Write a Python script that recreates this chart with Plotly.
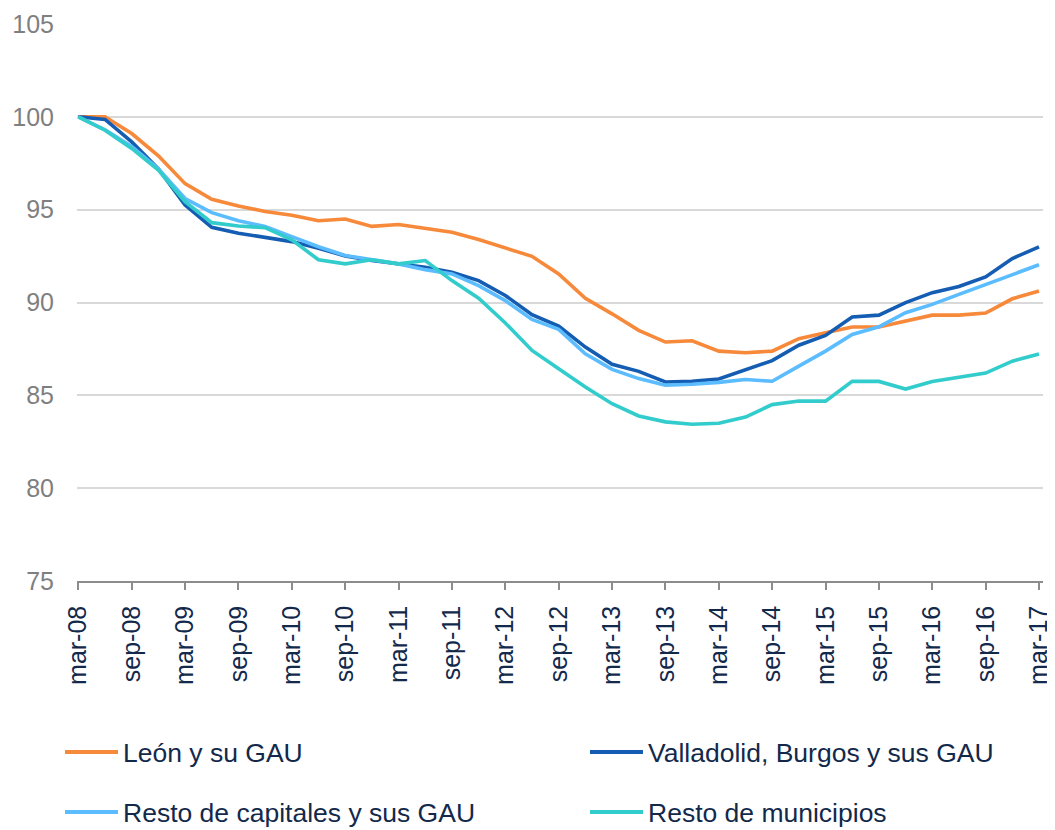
import plotly.graph_objects as go

months = ["mar", "jun", "sep", "dic"]
years = ["08", "09", "10", "11", "12", "13", "14", "15", "16", "17"]
quarters = [f"{m}-{y}" for y in years for m in months][:37]
tick_labels = quarters[::2]

leon = [100, 100.0, 99.1, 97.9, 96.4, 95.56, 95.2, 94.9, 94.7, 94.4, 94.5, 94.1,
        94.2, 94.0, 93.78, 93.39, 92.92, 92.49, 91.54, 90.23, 89.39, 88.5, 87.87,
        87.94, 87.38, 87.29, 87.38, 88.05, 88.37, 88.68, 88.68, 89.0, 89.32, 89.32,
        89.43, 90.2, 90.62]
valladolid = [100, 99.86, 98.65, 97.2, 95.25, 94.05, 93.73, 93.5, 93.28, 92.92,
              92.51, 92.26, 92.08, 91.9, 91.63, 91.18, 90.38, 89.34, 88.73, 87.6,
              86.67, 86.29, 85.72, 85.75, 85.88, 86.35, 86.87, 87.7, 88.23, 89.22,
              89.32, 89.99, 90.53, 90.86, 91.38, 92.37, 93.0]
resto_capitales = [100, 99.3, 98.4, 97.2, 95.6, 94.84, 94.4, 94.1, 93.55, 93.0,
                   92.53, 92.3, 92.08, 91.77, 91.54, 90.91, 90.1, 89.09, 88.55,
                   87.24, 86.4, 85.9, 85.54, 85.6, 85.7, 85.85, 85.76, 86.57, 87.38,
                   88.28, 88.69, 89.45, 89.9, 90.44, 90.98, 91.52, 92.03]
resto_municipios = [100, 99.28, 98.3, 97.13, 95.43, 94.3, 94.12, 94.03, 93.37, 92.3,
                    92.08, 92.3, 92.08, 92.26, 91.18, 90.23, 88.9, 87.42, 86.43,
                    85.45, 84.55, 83.89, 83.57, 83.44, 83.5, 83.83, 84.5, 84.69,
                    84.69, 85.75, 85.75, 85.34, 85.75, 85.99, 86.2, 86.84, 87.23]

names = ["León y su GAU", "Valladolid, Burgos y sus GAU",
         "Resto de capitales y sus GAU", "Resto de municipios"]
colors = ["#F7893B", "#145DB2", "#5BBCFF", "#33CCCC"]
series = [leon, valladolid, resto_capitales, resto_municipios]

FONT = "Liberation Sans, Arial, sans-serif"
NAVY = "#13294B"
OFF = 8  # page body margin offset
W, H = 1055 - OFF, 830 - OFF
L, R, T, B = 77 - OFF, 12, 24 - OFF, 249
PW, PH = W - L - R, H - T - B

fig = go.Figure()
for name, col, vals in zip(names, colors, series):
    fig.add_trace(go.Scatter(x=quarters, y=vals, mode="lines", name=name,
                             line=dict(color=col, width=3.6), showlegend=False))

def xp(px):
    return (px - OFF - L) / PW

def yp(py):
    return (H - B - (py - OFF)) / PH

# manual legend (2 columns, 2 rows), positions in page pixels
legend_pos = [(65, 752), (590, 752), (65, 812), (590, 812)]
shapes = []
annotations = []
for (lx, ly), name, col in zip(legend_pos, names, colors):
    shapes.append(dict(type="line", xref="paper", yref="paper",
                       x0=xp(lx), x1=xp(lx + 53), y0=yp(ly), y1=yp(ly),
                       line=dict(color=col, width=4)))
    annotations.append(dict(xref="paper", yref="paper", x=xp(lx + 56), y=yp(ly + 1),
                            text=name, showarrow=False, xanchor="left", yanchor="middle",
                            font=dict(family=FONT, size=26.5, color=NAVY)))

fig.update_layout(
    width=W, height=H,
    margin=dict(l=L, r=R, t=T, b=B),
    plot_bgcolor="white", paper_bgcolor="white",
    shapes=shapes, annotations=annotations,
    xaxis=dict(
        type="category", categoryorder="array", categoryarray=quarters,
        range=[-0.05, 36.15], automargin=False,
        tickmode="array", tickvals=tick_labels, ticktext=tick_labels,
        tickangle=-90, ticks="outside", ticklen=7, tickwidth=1.5, tickcolor="#8c8c8c",
        ticklabelstandoff=6,
        showline=True, linecolor="#8c8c8c", linewidth=1.5,
        showgrid=False, zeroline=False,
        tickfont=dict(family=FONT, size=25, color=NAVY),
    ),
    yaxis=dict(
        range=[75, 105], tickmode="array", tickvals=[75, 80, 85, 90, 95, 100, 105],
        automargin=False,
        showgrid=True, gridcolor="#d9d9d9", gridwidth=1.5,
        zeroline=False, showline=False, ticks="",
        ticklabelstandoff=22,
        tickfont=dict(family=FONT, size=25, color="#7f7f7f"),
    ),
)

fig.write_html("out.html")
